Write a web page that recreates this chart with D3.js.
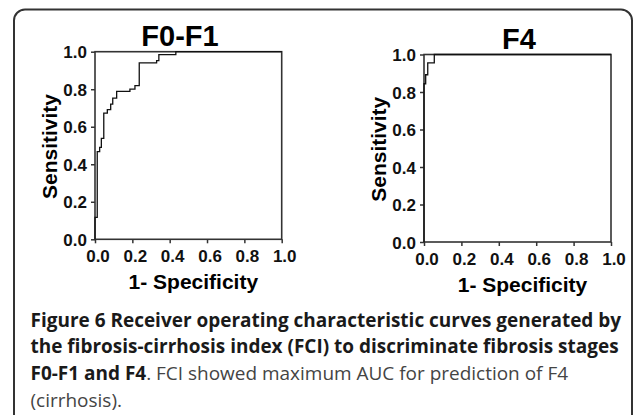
<!DOCTYPE html>
<html>
<head>
<meta charset="utf-8">
<script src="https://cdn.jsdelivr.net/npm/d3@7/dist/d3.min.js"></script>
<style>
  html, body { margin: 0; padding: 0; background: #fff; }
  svg { display: block; }
</style>
</head>
<body>
<svg id="chart" width="633" height="415"></svg>
<script>
// ---- data ----
const tickValues = [0, 0.2, 0.4, 0.6, 0.8, 1.0];
const panelTitles = ["F0-F1", "F4"];
const xLabel = "1- Specificity";
const yLabel = "Sensitivity";

// ROC vertices (1-specificity, sensitivity), drawn as steps
const f0f1Fpr = [0, 0, 0.012, 0.025, 0.034, 0.047, 0.066, 0.084, 0.095, 0.116, 0.187, 0.214, 0.237, 0.330, 0.342, 0.433, 1.0];
const f0f1Tpr = [0, 0.117, 0.467, 0.490, 0.538, 0.673, 0.691, 0.721, 0.753, 0.789, 0.801, 0.819, 0.940, 0.952, 0.984, 1.0, 1.0];

const f4Fpr = [0, 0, 0.009, 0.020, 0.055, 1.0];
const f4Tpr = [0, 0.844, 0.892, 0.955, 1.0, 1.0];

const captionLines = [
  [{t: "Figure 6 Receiver operating characteristic curves generated by", b: true}],
  [{t: "the fibrosis-cirrhosis index (FCI) to discriminate fibrosis stages", b: true}],
  [{t: "F0-F1 and F4", b: true}, {t: ". FCI showed maximum AUC for prediction of F4", b: false}],
  [{t: "(cirrhosis).", b: false}]
];

// ---- drawing ----
const svg = d3.select("#chart");

// outer rounded frame
svg.append("rect")
  .attr("x", 14).attr("y", 9.5)
  .attr("width", 618).attr("height", 460)
  .attr("rx", 11).attr("ry", 11)
  .attr("fill", "none").attr("stroke", "#333").attr("stroke-width", 2);

const chartFont = "'Liberation Sans', Arial, Helvetica, sans-serif";

function panel(opts) {
  const x = d3.scaleLinear().domain([0, 1]).range([opts.x0, opts.x1]);
  const y = d3.scaleLinear().domain([0, 1]).range([opts.y0, opts.y1]);
  const g = svg.append("g");

  // axes ticks
  const xa = g.append("g").attr("transform", `translate(0,${opts.y0})`)
    .call(d3.axisBottom(x).tickValues(tickValues).tickSize(4).tickPadding(6).tickFormat(d3.format(".1f")));
  const ya = g.append("g").attr("transform", `translate(${opts.x0},0)`)
    .call(d3.axisLeft(y).tickValues(tickValues).tickSize(4).tickPadding(4).tickFormat(d3.format(".1f")));
  [xa, ya].forEach(a => {
    a.select(".domain").remove();
    a.selectAll(".tick line").attr("stroke", "#333").attr("stroke-width", 1.5);
    a.selectAll(".tick text")
      .attr("fill", "#111")
      .style("font-family", chartFont)
      .style("font-weight", "bold")
      .style("font-size", "17px");
  });
  xa.selectAll(".tick text").attr("dx", 2.5).attr("dy", null).attr("y", 23).attr("dominant-baseline", null);
  ya.selectAll(".tick text").attr("dy", "0.36em");

  // frame
  g.append("rect")
    .attr("x", opts.x0).attr("y", opts.y1)
    .attr("width", opts.x1 - opts.x0).attr("height", opts.y0 - opts.y1)
    .attr("fill", "none").attr("stroke", "#333").attr("stroke-width", 1.6);

  // ROC curve
  const pts = opts.fpr.map((f, i) => [f, opts.tpr[i]]);
  const line = d3.line().x(d => x(d[0])).y(d => y(d[1])).curve(d3.curveStepAfter);
  g.append("path").datum(pts)
    .attr("d", line)
    .attr("fill", "none").attr("stroke", "#111").attr("stroke-width", 1.3);

  // title
  g.append("text")
    .attr("x", opts.titleX).attr("y", opts.y1 - 6)
    .attr("text-anchor", "middle")
    .style("font-family", chartFont).style("font-weight", "bold").style("font-size", "29px")
    .attr("fill", "#000")
    .text(opts.title);

  // x label
  g.append("text")
    .attr("x", (opts.x0 + opts.x1) / 2 + 5).attr("y", opts.y0 + 49.5)
    .attr("text-anchor", "middle")
    .style("font-family", chartFont).style("font-weight", "bold").style("font-size", "21px")
    .attr("fill", "#000")
    .text(xLabel);

  // y label
  const cy = (opts.y0 + opts.y1) / 2 + 1;
  g.append("text")
    .attr("transform", `translate(${opts.x0 - 38.5},${cy}) rotate(-90)`)
    .attr("text-anchor", "middle")
    .style("font-family", chartFont).style("font-weight", "bold").style("font-size", "21px")
    .attr("fill", "#000")
    .text(yLabel);
}

panel({x0: 95, x1: 281.7, y0: 239.3, y1: 51.7, fpr: f0f1Fpr, tpr: f0f1Tpr, title: panelTitles[0], titleX: 180});
panel({x0: 424, x1: 611, y0: 242, y1: 54.5, fpr: f4Fpr, tpr: f4Tpr, title: panelTitles[1], titleX: 519});

// caption
const capFont = "'Open Sans', 'Noto Sans', sans-serif";
const capG = svg.append("g");
const baselines = [326.7, 353.3, 380, 406.7];
let fs = 16;
const texts = captionLines.map((parts, i) => {
  const t = capG.append("text").attr("x", 30.5).attr("y", baselines[i])
    .style("font-family", capFont);
  parts.forEach(p => {
    t.append("tspan").text(p.t)
      .style("font-weight", p.b ? "bold" : "normal")
      .attr("fill", p.b ? "#1a1a1a" : "#444");
  });
  return t;
});
// fit first line width to reference (~591px)
texts.forEach(t => t.style("font-size", fs + "px"));
const w = texts[0].node().getComputedTextLength();
fs = fs * 591 / w;
texts.forEach(t => t.style("font-size", fs.toFixed(2) + "px"));
</script>
</body>
</html>
